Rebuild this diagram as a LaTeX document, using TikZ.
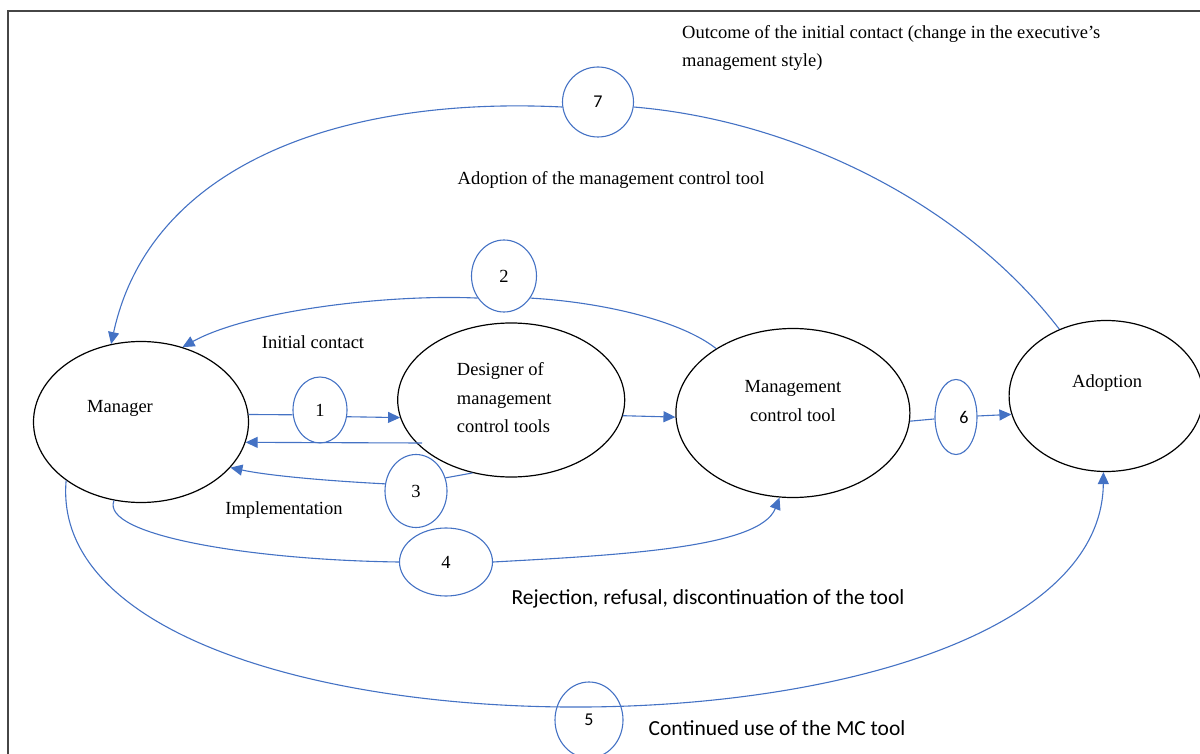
\documentclass[tikz,border=0pt]{standalone}
\usepackage{fontspec}
\setmainfont{Liberation Serif}
\newfontfamily\cbfont{Carlito}
\usetikzlibrary{shapes.geometric, arrows.meta, positioning}
\definecolor{linkblue}{RGB}{68, 114, 196}
\definecolor{framegray}{RGB}{70, 70, 70}

\begin{document}
\begin{tikzpicture}[
    x=1pt, y=-1pt,
    font=\fontsize{18.5}{28.5}\selectfont,
    actor/.style={ellipse, draw=black, line width=1.2pt, inner sep=0pt},
    stage/.style={ellipse, draw=linkblue, line width=1.1pt, inner sep=0pt},
    stagesf/.style={stage, font=\cbfont\fontsize{18}{22}\selectfont},
    note/.style={inner sep=0pt},
    sfnote/.style={inner sep=0pt, font=\cbfont\fontsize{21.5}{26}\selectfont},
    link/.style={line width=1.1pt, linkblue},
    arrow/.style={line width=1.1pt, linkblue, -{Triangle[length=12pt, width=11pt]}}
]

\useasboundingbox (0,0) rectangle (1200,754);
\draw[framegray, line width=2pt] (8,754) -- (8,11) -- (1200,11);

\node (mgr) [actor, minimum width=215pt, minimum height=161pt,
    label={[xshift=-21pt, yshift=14pt]center:Manager}] at (141,422) {};

\node (des) [actor, minimum width=227pt, minimum height=154pt, right=148pt of mgr, yshift=22pt,
    label={[align=left, xshift=-7pt, yshift=2pt]center:Designer of\\management\\control tools}] {};

\node (mct) [actor, minimum width=234pt, minimum height=169pt, right=50pt of des, yshift=-13pt,
    label={[align=center, yshift=12pt]center:Management\\control tool}] {};

\node (adp) [actor, minimum width=194pt, minimum height=151pt, right=98pt of mct, yshift=17pt,
    label={[xshift=1pt, yshift=13pt]center:Adoption}] {};

\node (n1) [stage, minimum width=54pt, minimum height=66pt] at (320,410) {1};
\node (n2) [stage, minimum width=65pt, minimum height=72pt] at (504,276) {2};
\node (n3) [stage, minimum width=62pt, minimum height=73pt] at (416,491) {3};
\node (n4) [stage, minimum width=93pt, minimum height=68pt] at (446,562) {4};
\node (n5) [stagesf, minimum width=68pt, minimum height=76pt] at (589,720) {5};
\node (n6) [stagesf, minimum width=42pt, minimum height=75pt] at (956,417) {\hspace*{16pt}6};
\node (n7) [stagesf, minimum width=71pt, minimum height=70pt] at (598,102) {7};

\node (outcome) [note, anchor=west, align=left] at (682,48) {Outcome of the initial contact (change in the executive's\\management style)};
\node (adoptnote) [note] at (611,180) {Adoption of the management control tool};
\node (contact) [note] at (313,342) {Initial contact};
\node (implement) [note] at (284,510) {Implementation};
\node (reject) [sfnote] at (708,599) {Rejection, refusal, discontinuation of the tool};
\node (continued) [sfnote] at (777,728) {Continued use of the MC tool};

\coordinate (back) at (422,443);

\draw[link] (mgr.4) -- (n1.190);
\draw[arrow] (n1.-14) -- (des.189);
\draw[arrow] (back) -- (mgr.-11.5);
\draw[link] (des.-118) -- (n3.24);
\draw[arrow] (n3.167) .. controls (330,481) and (270,476) .. (mgr.-27);
\draw[arrow] (des.-8) -- (mct.182);
\draw[link] (mct.140) .. controls (680,320) and (600,302) .. (n2.-40);
\draw[arrow] (n2.-140) .. controls (390,294) and (250,310) .. (mgr.61);
\draw[link] (adp.125) .. controls (960,200) and (790,120) .. (n7.-8);
\draw[arrow] (n7.188) .. controls (340,96) and (150,165) .. (mgr.111);
\draw[link] (mgr.-109) .. controls (100,535) and (250,560) .. (n4.west);
\draw[arrow] (n4.east) .. controls (620,555) and (760,548) .. (mct.-99);
\draw[arrow] (mgr.-142) .. controls (40,782) and (1100,782) .. (adp.-92);
\draw[link] (mct.-4) -- (n6);
\draw[arrow] (n6) -- (adp.191);

\end{tikzpicture}
\end{document}
